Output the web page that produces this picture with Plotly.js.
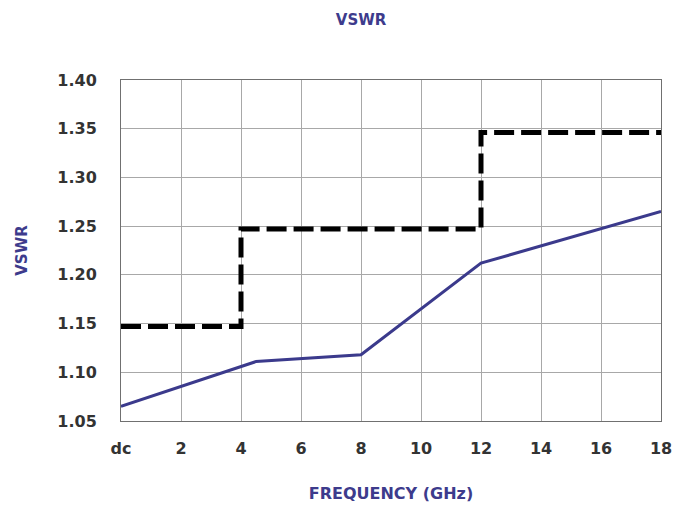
<!DOCTYPE html>
<html>
<head>
<meta charset="utf-8">
<script src="https://cdn.plot.ly/plotly-3.0.1.min.js"></script>
<style>html,body{margin:0;padding:0;background:#fff;}#chart{width:680px;height:506px;}</style>
</head>
<body>
<div id="chart"></div>
<script>
// Typical VSWR curve
const freqTyp = [0, 4.5, 8, 12, 18];
const vswrTyp = [1.065, 1.111, 1.118, 1.212, 1.265];
// Specification limit (step)
const freqSpec = [0, 4, 12, 18];
const vswrSpec = [1.147, 1.247, 1.346, 1.346];
// Axis ticks
const xTickVals = [0, 2, 4, 6, 8, 10, 12, 14, 16, 18];
const xTickText = ['dc', '2', '4', '6', '8', '10', '12', '14', '16', '18'];
const yTickVals = [1.05, 1.10, 1.15, 1.20, 1.25, 1.30, 1.35, 1.40];
const yTickText = ['1.05', '1.10', '1.15', '1.20', '1.25', '1.30', '1.35', '1.40'];

const titleColor = '#3d3b8c';
const tickFont = {family: 'DejaVu Sans', size: 16, color: '#333333', weight: 'bold'};

const traces = [
  {
    x: freqSpec, y: vswrSpec, type: 'scatter', mode: 'lines',
    line: {shape: 'hv', color: '#000000', width: 5, dash: '20px,7px'},
    name: 'Max', hoverinfo: 'x+y'
  },
  {
    x: freqTyp, y: vswrTyp, type: 'scatter', mode: 'lines',
    line: {color: '#3b3a8c', width: 3},
    name: 'Typical', hoverinfo: 'x+y'
  }
];

const layout = {
  width: 680, height: 506,
  margin: {l: 121, r: 19, t: 80, b: 85},
  paper_bgcolor: '#ffffff', plot_bgcolor: '#ffffff',
  showlegend: false,
  title: {
    text: 'VSWR', x: 0.531, xref: 'container', y: 0.96, yref: 'container',
    xanchor: 'center', yanchor: 'middle',
    font: {family: 'DejaVu Sans', size: 15, color: titleColor, weight: 'bold'}
  },
  xaxis: {
    range: [0, 18], tickvals: xTickVals, ticktext: xTickText,
    showgrid: true, gridcolor: '#a8a8a8', gridwidth: 1,
    zeroline: false, showline: true, linecolor: '#707070', linewidth: 1, mirror: true,
    ticks: '', ticklabelstandoff: 13, tickfont: tickFont,
    title: {text: 'FREQUENCY (GHz)', standoff: 30,
      font: {family: 'DejaVu Sans', size: 16, color: titleColor, weight: 'bold'}}
  },
  yaxis: {
    range: [1.05, 1.40], tickvals: yTickVals, ticktext: yTickText,
    showgrid: true, gridcolor: '#a8a8a8', gridwidth: 1,
    zeroline: false, showline: true, linecolor: '#707070', linewidth: 1, mirror: true,
    ticks: '', ticklabelstandoff: 20, tickfont: tickFont,
    title: {text: 'VSWR', standoff: 26,
      font: {family: 'DejaVu Sans', size: 15, color: titleColor, weight: 'bold'}}
  }
};

Plotly.newPlot('chart', traces, layout, {staticPlot: true, displayModeBar: false});
</script>
</body>
</html>
